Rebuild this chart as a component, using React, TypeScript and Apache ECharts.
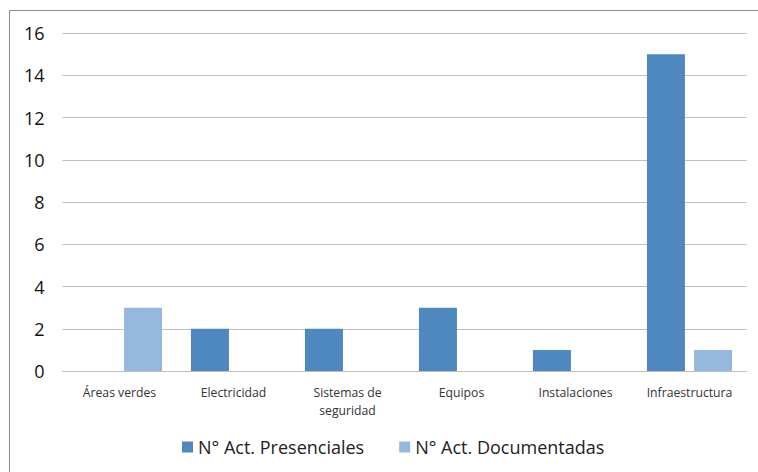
import React, { useEffect, useRef } from "react";
import * as echarts from "echarts";

const categories = ["Áreas verdes", "Electricidad", "Sistemas de\nseguridad", "Equipos", "Instalaciones", "Infraestructura"];
const presenciales = [0, 2, 2, 3, 1, 15];
const documentadas = [3, 0, 0, 0, 0, 1];
const seriesNames = ["N° Act. Presenciales", "N° Act. Documentadas"];

export default function App() {
  const ref = useRef<HTMLDivElement>(null);
  useEffect(() => {
    if (!ref.current) return;
    const chart = echarts.init(ref.current, null, { renderer: "svg" });
    const font = "'Open Sans', 'Liberation Sans', sans-serif";
    chart.setOption({
      animation: false,
      backgroundColor: "#ffffff",
      textStyle: { fontFamily: font },
      grid: { left: 62.5, right: 11.5, top: 33, bottom: 101, containLabel: false },
      legend: {
        bottom: 11,
        left: 177,
        itemWidth: 11,
        itemHeight: 11,
        itemGap: 35,
        icon: "rect",
        textStyle: { fontSize: 18, color: "#222222", fontFamily: font },
        data: seriesNames,
      },
      xAxis: {
        type: "category",
        data: categories,
        axisLine: { show: true, lineStyle: { color: "#BFBFBF", width: 1 } },
        axisTick: { show: false },
        axisLabel: { color: "#333333", fontSize: 12.2, margin: 12, lineHeight: 18, interval: 0, fontFamily: font },
      },
      yAxis: {
        type: "value",
        min: 0,
        max: 16,
        interval: 2,
        axisLine: { show: false },
        axisTick: { show: false },
        axisLabel: { color: "#111111", fontSize: 18, margin: 18, fontFamily: font },
        splitLine: { lineStyle: { color: "#BFBFBF", width: 1 } },
      },
      series: [
        {
          name: seriesNames[0],
          type: "bar",
          data: presenciales,
          barWidth: 38,
          barGap: "24%",
          itemStyle: { color: "#4F88BF" },
        },
        {
          name: seriesNames[1],
          type: "bar",
          data: documentadas,
          barWidth: 38,
          barGap: "24%",
          itemStyle: { color: "#96B8DE" },
        },
      ],
      graphic: [
        { type: "line", shape: { x1: 9.5, y1: 10.5, x2: 9.5, y2: 472 }, style: { stroke: "#8C8C8C", lineWidth: 1 } },
        { type: "line", shape: { x1: 9.5, y1: 10.5, x2: 758, y2: 10.5 }, style: { stroke: "#8C8C8C", lineWidth: 1 } },
      ],
    });
    return () => chart.dispose();
  }, []);
  return (
    <div style={{ position: "fixed", left: 0, top: 0, width: 758, height: 472 }}>
      <div ref={ref} style={{ width: 758, height: 472 }} />
    </div>
  );
}
